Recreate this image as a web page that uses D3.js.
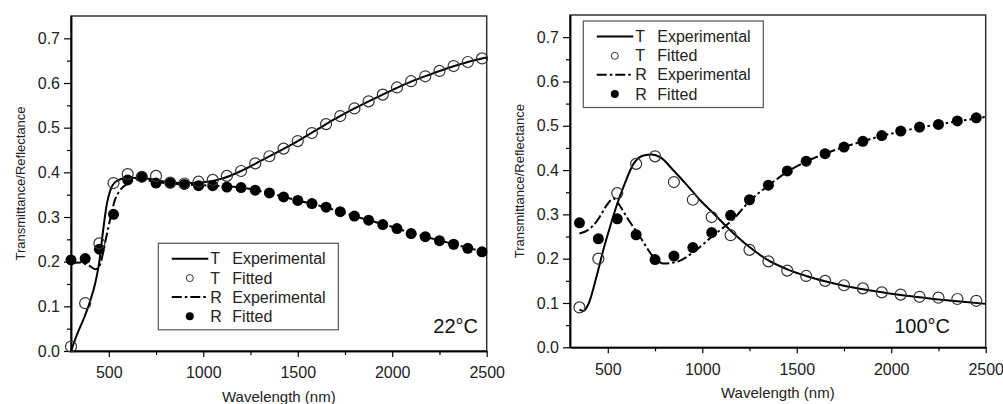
<!DOCTYPE html>
<html>
<head>
<meta charset="utf-8">
<script src="https://cdn.jsdelivr.net/npm/d3@7"></script>
<style>
  body { margin: 0; background: #fff; }
  svg { display: block; font-family: "Liberation Sans", Arial, Helvetica, sans-serif; }
</style>
</head>
<body>
<svg id="chart" width="1003" height="404"></svg>
<script>
// ---- data ----
const xTicks = [500, 1000, 1500, 2000, 2500];
const xMinor = [750, 1250, 1750, 2250];
const yTicks = [0.0, 0.1, 0.2, 0.3, 0.4, 0.5, 0.6, 0.7];
const yMinor = [0.05, 0.15, 0.25, 0.35, 0.45, 0.55, 0.65];
const legendLabels = ['Experimental', 'Fitted', 'Experimental', 'Fitted'];
const legendLetters = ['T', 'T', 'R', 'R'];

// 22 °C panel
const wlFit22 = [300, 375, 450, 525, 600, 675, 750, 825, 900, 975, 1050, 1125, 1200, 1275, 1350,
  1425, 1500, 1575, 1650, 1725, 1800, 1875, 1950, 2025, 2100, 2175, 2250, 2325, 2400, 2475];
const tFit22 = [0.010, 0.107, 0.241, 0.376, 0.396, 0.390, 0.392, 0.377, 0.375, 0.379, 0.383, 0.392, 0.403, 0.420, 0.436,
  0.453, 0.470, 0.488, 0.508, 0.526, 0.543, 0.559, 0.574, 0.590, 0.604, 0.615, 0.627, 0.638, 0.647, 0.655];
const rFit22 = [0.204, 0.207, 0.228, 0.306, 0.383, 0.390, 0.376, 0.376, 0.373, 0.370, 0.370, 0.367, 0.366, 0.360, 0.354,
  0.345, 0.337, 0.330, 0.322, 0.312, 0.302, 0.293, 0.283, 0.274, 0.263, 0.256, 0.247, 0.239, 0.230, 0.222];
const wlTExp22 = [300, 330, 370, 400, 430, 450, 470, 490, 510, 540, 600, 700, 800, 900, 1000, 1100, 1200, 1300,
  1400, 1500, 1600, 1700, 1800, 1900, 2000, 2100, 2200, 2300, 2400, 2500];
const tExp22 = [0.000, 0.035, 0.075, 0.110, 0.155, 0.200, 0.270, 0.330, 0.362, 0.380, 0.388, 0.386, 0.379, 0.376, 0.378,
  0.386, 0.403, 0.425, 0.447, 0.470, 0.495, 0.520, 0.543, 0.564, 0.584, 0.603, 0.619, 0.634, 0.647, 0.657];
const wlRExp22 = [300, 350, 400, 430, 450, 470, 490, 510, 530, 560, 600, 650, 700, 800, 900, 1000, 1100, 1200, 1300,
  1400, 1500, 1600, 1700, 1800, 1900, 2000, 2100, 2200, 2300, 2400, 2500];
const rExp22 = [0.197, 0.198, 0.190, 0.183, 0.190, 0.220, 0.262, 0.300, 0.335, 0.360, 0.375, 0.384, 0.382, 0.376, 0.373,
  0.371, 0.369, 0.366, 0.358, 0.348, 0.337, 0.327, 0.315, 0.302, 0.290, 0.278, 0.264, 0.253, 0.242, 0.231, 0.221];

// 100 °C panel
const wlFit100 = [350, 450, 550, 650, 750, 850, 950, 1050, 1150, 1250, 1350, 1450, 1550, 1650, 1750,
  1850, 1950, 2050, 2150, 2250, 2350, 2450];
const tFit100 = [0.090, 0.200, 0.348, 0.414, 0.431, 0.373, 0.333, 0.294, 0.253, 0.220, 0.194, 0.173, 0.161, 0.150, 0.140,
  0.133, 0.124, 0.119, 0.114, 0.112, 0.109, 0.105];
const rFit100 = [0.281, 0.245, 0.290, 0.254, 0.198, 0.206, 0.225, 0.259, 0.298, 0.333, 0.366, 0.398, 0.420, 0.437, 0.452,
  0.465, 0.478, 0.488, 0.497, 0.503, 0.511, 0.518];
const wlTExp100 = [350, 370, 400, 440, 476, 512, 547, 583, 636, 689, 733, 777, 848, 919, 989, 1060, 1166, 1272, 1350,
  1450, 1550, 1650, 1750, 1850, 1950, 2050, 2150, 2250, 2350, 2500];
const tExp100 = [0.085, 0.082, 0.100, 0.159, 0.219, 0.272, 0.320, 0.362, 0.414, 0.433, 0.435, 0.429, 0.399, 0.366, 0.332,
  0.302, 0.257, 0.219, 0.196, 0.176, 0.161, 0.149, 0.139, 0.131, 0.124, 0.118, 0.113, 0.108, 0.104, 0.098];
const wlRExp100 = [350, 393, 446, 500, 530, 560, 600, 671, 742, 795, 866, 954, 1060, 1166, 1250, 1350, 1450, 1550,
  1650, 1750, 1850, 1950, 2050, 2150, 2250, 2350, 2500];
const rExp100 = [0.257, 0.264, 0.287, 0.324, 0.336, 0.322, 0.294, 0.249, 0.204, 0.189, 0.193, 0.215, 0.253, 0.290, 0.330,
  0.365, 0.396, 0.419, 0.437, 0.452, 0.465, 0.477, 0.487, 0.496, 0.503, 0.510, 0.520];

const svg = d3.select('#chart');
const dashR = '10,3,2.5,3';

function drawPanel(p) {
  const x = d3.scaleLinear().domain([300, 2500]).range([p.left, p.right]);
  const y = d3.scaleLinear().domain([0, 0.75]).range([p.bottom, p.top]);
  const g = svg.append('g');

  // plot frame
  g.append('rect')
    .attr('x', p.left).attr('y', p.top)
    .attr('width', p.right - p.left).attr('height', p.bottom - p.top)
    .attr('fill', 'none').attr('stroke', '#333').attr('stroke-width', 1.5);

  // X axis (major + minor)
  const xAxis = g.append('g')
    .attr('transform', `translate(0,${p.bottom})`)
    .call(d3.axisBottom(x).tickValues(xTicks).tickFormat(d3.format('d')).tickSize(6).tickSizeOuter(0).tickPadding(10));
  g.append('g')
    .attr('transform', `translate(0,${p.bottom})`)
    .call(d3.axisBottom(x).tickValues(xMinor).tickFormat('').tickSize(4).tickSizeOuter(0));

  // Y axis (major + minor)
  const yAxis = g.append('g')
    .attr('transform', `translate(${p.left},0)`)
    .call(d3.axisLeft(y).tickValues(yTicks).tickFormat(d3.format('.1f')).tickSize(7).tickSizeOuter(0).tickPadding(4));
  g.append('g')
    .attr('transform', `translate(${p.left},0)`)
    .call(d3.axisLeft(y).tickValues(yMinor).tickFormat('').tickSize(4).tickSizeOuter(0));

  g.selectAll('.domain').attr('stroke', '#000').attr('stroke-width', 1.5);
  g.selectAll('.tick line').attr('stroke', '#000').attr('stroke-width', 1.2);
  g.selectAll('.tick text').attr('fill', '#222').style('font-size', '16px')
    .style('font-family', '"Liberation Sans", Arial, sans-serif');

  // axis titles
  g.append('text')
    .attr('x', (p.left + p.right) / 2).attr('y', p.bottom + 51)
    .attr('text-anchor', 'middle').style('font-size', '15px').attr('fill', '#222')
    .text('Wavelength (nm)');
  g.append('text')
    .attr('transform', `translate(${p.left - 46},${(p.top + p.bottom) / 2}) rotate(-90)`)
    .attr('text-anchor', 'middle').style('font-size', '13px').attr('fill', '#222')
    .text('Transmittance/Reflectance');

  // curves
  const line = (wl, vals) => d3.line()
    .x((d, i) => x(wl[i])).y(d => y(d))
    .curve(d3.curveMonotoneX)(vals);

  g.append('path').attr('d', line(p.wlT, p.tExp))
    .attr('fill', 'none').attr('stroke', '#000').attr('stroke-width', 2);
  g.append('path').attr('d', line(p.wlR, p.rExp))
    .attr('fill', 'none').attr('stroke', '#000').attr('stroke-width', 2)
    .attr('stroke-dasharray', dashR);

  // fitted points
  g.append('g').selectAll('circle').data(p.rFit).join('circle')
    .attr('cx', (d, i) => x(p.wlFit[i])).attr('cy', d => y(d))
    .attr('r', 5.5).attr('fill', '#000');
  g.append('g').selectAll('circle').data(p.tFit).join('circle')
    .attr('cx', (d, i) => x(p.wlFit[i])).attr('cy', d => y(d))
    .attr('r', 5.5).attr('fill', 'none').attr('stroke', '#333').attr('stroke-width', 1.2);

  // legend
  const lg = g.append('g').attr('transform', `translate(${p.legX},${p.legY})`);
  lg.append('rect').attr('width', 180).attr('height', 86.5)
    .attr('fill', '#fff').attr('stroke', '#555').attr('stroke-width', 1.2);
  const rows = [15.5, 34.8, 53.8, 73];
  legendLabels.forEach((lab, i) => {
    const row = lg.append('g').attr('transform', `translate(0,${rows[i]})`);
    if (i === 0) {
      row.append('line').attr('x1', 13.5).attr('x2', 50).attr('stroke', '#000').attr('stroke-width', 2);
    } else if (i === 2) {
      row.append('line').attr('x1', 13.5).attr('x2', 50).attr('stroke', '#000').attr('stroke-width', 2)
        .attr('stroke-dasharray', dashR);
    } else if (i === 1) {
      row.append('circle').attr('cx', 31.5).attr('r', 3.5).attr('fill', 'none')
        .attr('stroke', '#333').attr('stroke-width', 1);
    } else {
      row.append('circle').attr('cx', 31.5).attr('r', 4).attr('fill', '#000');
    }
    row.append('text').attr('x', 52).attr('y', 5.5).style('font-size', '16px').attr('fill', '#222')
      .text(legendLetters[i]);
    row.append('text').attr('x', 74).attr('y', 5.5).style('font-size', '16px').attr('fill', '#222')
      .text(lab);
  });

  // temperature label
  g.append('text')
    .attr('x', p.tempX).attr('y', 333)
    .attr('text-anchor', 'end').style('font-size', '20px').attr('fill', '#111')
    .text(p.temp);
}

drawPanel({
  left: 71, right: 486.7, top: 16, bottom: 351,
  wlFit: wlFit22, tFit: tFit22, rFit: rFit22,
  wlT: wlTExp22, tExp: tExp22, wlR: wlRExp22, rExp: rExp22,
  legX: 158.3, legY: 243.3, temp: '22°C', tempX: 478
});

drawPanel({
  left: 570, right: 985.7, top: 15, bottom: 347.3,
  wlFit: wlFit100, tFit: tFit100, rFit: rFit100,
  wlT: wlTExp100, tExp: tExp100, wlR: wlRExp100, rExp: rExp100,
  legX: 583.3, legY: 21, temp: '100°C', tempX: 950
});
</script>
</body>
</html>
